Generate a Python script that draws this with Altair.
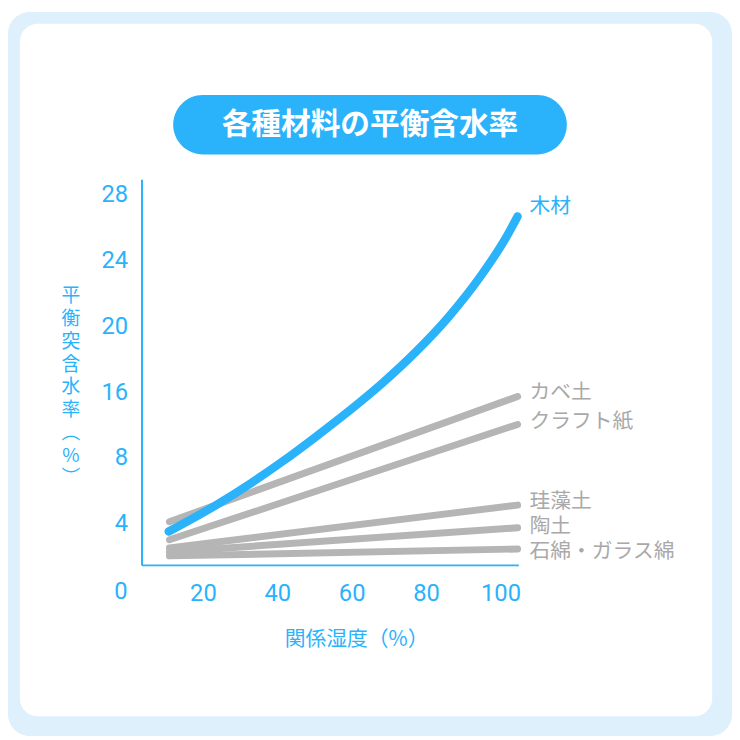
import altair as alt
import pandas as pd

# ---------------- data ----------------
title_text = "各種材料の平衡含水率"
x_title = "関係湿度（%）"
y_title_chars = ["平", "衡", "突", "含", "水", "率", "︵", "%", "︶"]

x_ticks = [20, 40, 60, 80, 100]
y_ticks = [4, 8, 16, 20, 24, 28]
origin_label = "0"

wood_name = "木材"
wood_rh = [10.8, 24.0, 32.9, 41.7, 50.6, 59.5, 68.4, 77.2, 86.1, 95.0, 101.2, 104.6]
wood_emc = [3.53, 5.20, 6.47, 7.84, 10.68, 13.81, 16.59, 18.45, 20.60, 23.17, 25.30, 26.70]

gray_names = ["カベ土", "クラフト紙", "珪藻土", "陶土", "石綿・ガラス綿"]
gray_rh = [11.0, 104.6]
gray_start = [4.13, 3.03, 2.53, 2.29, 2.05]
gray_end = [15.49, 12.09, 5.14, 3.76, 2.47]

# ---------------- styling ----------------
BLUE = "#2ab3fb"
GRAY_LINE = "#b5b5b5"
GRAY_TEXT = "#a9a9a9"
FRAME = "#ddf0fc"
JP = "Noto Sans CJK JP"
NUM = "Roboto"

W, H = 381, 390
STEP = 66.5  # pixel spacing between y tick labels
# piecewise y scale: the axis labels are evenly spaced (0,4,8,16,20,24,28)
y_pos = {8: H + 25 - 2 * STEP, 16: H + 25 - 3 * STEP}
y_bottom_val = 8 - (H - y_pos[8]) / STEP * 4
y_top_val = 28 + (H + 25 - 6 * STEP) / STEP * 4
y_scale = alt.Scale(domain=[y_bottom_val, 8, 16, y_top_val],
                    range=[H, y_pos[8], y_pos[16], 0], nice=False, zero=False)
x_scale = alt.Scale(domain=[3.5, 104.8], nice=False, zero=False)

rows = []
for i, n in enumerate(gray_names):
    rows.append({"material": n, "rh": gray_rh[0], "emc": gray_start[i]})
    rows.append({"material": n, "rh": gray_rh[1], "emc": gray_end[i]})
gray_df = pd.DataFrame(rows)
wood_df = pd.DataFrame({"material": wood_name, "rh": wood_rh, "emc": wood_emc})

x_axis = alt.Axis(
    values=x_ticks, title=x_title, grid=False, ticks=False, tickSize=0,
    domainColor=BLUE, domainWidth=2, labelColor=BLUE, labelFont=NUM,
    labelFontSize=24, labelPadding=29, labelFlush=False, labelBaseline="middle",
    titleX=217, titleY=75, titleColor=BLUE, titleFont=JP, titleFontSize=21,
    titleFontWeight="normal", titleBaseline="middle", titleAlign="center",
    zindex=2)
y_axis = alt.Axis(
    values=y_ticks, title=y_title_chars, grid=False, ticks=False, tickSize=0,
    domainColor=BLUE, domainWidth=2, labelColor=BLUE, labelFont=NUM,
    labelFontSize=24, labelPadding=14,
    titleAngle=0, titleX=-72, titleY=118, titleAlign="center",
    titleBaseline="middle", titleLineHeight=23, titleColor=BLUE, titleFont=JP,
    titleFontSize=19, titleFontWeight="normal", zindex=2)


def xe():
    return alt.X("rh:Q", scale=x_scale, axis=x_axis)


def ye():
    return alt.Y("emc:Q", scale=y_scale, axis=y_axis)


one = pd.DataFrame({"k": [0]})

outer = alt.Chart(one).mark_rect(fill=FRAME, cornerRadius=22).encode(
    x=alt.value(-135), x2=alt.value(597), y=alt.value(-169), y2=alt.value(563))
card = alt.Chart(one).mark_rect(fill="white", cornerRadius=18).encode(
    x=alt.value(-123), x2=alt.value(577), y=alt.value(-157), y2=alt.value(543))
pill = alt.Chart(one).mark_rect(fill=BLUE, cornerRadius=30).encode(
    x=alt.value(32), x2=alt.value(430), y=alt.value(-85), y2=alt.value(-25))
title = alt.Chart(one).mark_text(
    text=title_text, font=JP, fontSize=30, fontWeight="bold", color="white",
    align="center", baseline="middle").encode(
    x=alt.value(231), y=alt.value(-55))

gray_lines = alt.Chart(gray_df).mark_line(
    color=GRAY_LINE, strokeWidth=7, strokeCap="round").encode(
    x=xe(), y=ye(), detail="material:N", order="rh:Q")
wood_line = alt.Chart(wood_df).mark_line(
    color=BLUE, strokeWidth=8.5, strokeCap="round", interpolate="monotone").encode(
    x=xe(), y=ye(), order="rh:Q")

origin = alt.Chart(one).mark_text(
    text=origin_label, font=NUM, fontSize=24, color=BLUE, align="right",
    baseline="middle", dy=2).encode(
    x=alt.value(-14), y=alt.YDatum(0, scale=y_scale, axis=y_axis, type="quantitative"))

label_dy = {"木材": -9, "カベ土": -3, "クラフト紙": -2, "珪藻土": -3, "陶土": -1,
            "石綿・ガラス綿": 3}
labels = []
labels.append(alt.Chart(pd.DataFrame({"material": [wood_name], "rh": [wood_rh[-1]],
                                      "emc": [wood_emc[-1]]})).mark_text(
    font=JP, fontSize=21, color=BLUE, align="left", baseline="middle", dx=12,
    dy=label_dy[wood_name]).encode(x=xe(), y=ye(), text="material:N"))
for i, n in enumerate(gray_names):
    labels.append(alt.Chart(pd.DataFrame({"material": [n], "rh": [gray_rh[1]],
                                          "emc": [gray_end[i]]})).mark_text(
        font=JP, fontSize=21, color=GRAY_TEXT, align="left", baseline="middle",
        dx=12, dy=label_dy[n]).encode(x=xe(), y=ye(), text="material:N"))

chart = alt.layer(outer, card, pill, title, gray_lines, wood_line, origin, *labels).properties(
    width=W, height=H,
    autosize=alt.AutoSizeParams(type="none"),
    padding={"left": 135, "top": 169, "right": 216, "bottom": 173},
).configure(background="white").configure_view(strokeWidth=0)

chart.save("out.html", embed_options={"renderer": "svg", "actions": False})
